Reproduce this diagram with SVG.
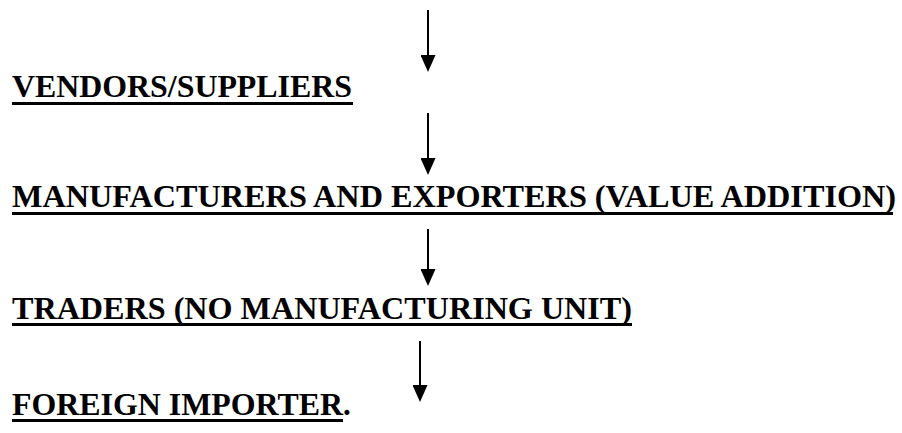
<svg xmlns="http://www.w3.org/2000/svg" width="902" height="433" viewBox="0 0 902 433">
  <defs>
    <style>
      .lbl { font-family: "Liberation Serif", "Times New Roman", serif; font-weight: bold; font-size: 31px; fill: #000; }
      .ul { fill: #000; }
      .conn { stroke: #000; stroke-width: 2; fill: none; marker-end: url(#head); }
    </style>
    <marker id="head" markerUnits="userSpaceOnUse" viewBox="0 0 17 15" refX="0" refY="7.5" markerWidth="17" markerHeight="15" orient="auto">
      <path d="M0,0 L17,7.5 L0,15 z" fill="#000"/>
    </marker>
  </defs>
  <rect width="902" height="433" fill="#fff"/>
  <g id="connectors">
    <line class="conn" x1="428" y1="10" x2="428" y2="55"/>
    <line class="conn" x1="428" y1="113" x2="428" y2="158"/>
    <line class="conn" x1="428" y1="229" x2="428" y2="269"/>
    <line class="conn" x1="420" y1="341" x2="420" y2="385"/>
  </g>
  <g id="vendors">
    <text class="lbl" x="12" y="97" textLength="340" lengthAdjust="spacingAndGlyphs">VENDORS/SUPPLIERS</text>
    <rect class="ul" x="12" y="102" width="341" height="3"/>
  </g>
  <g id="manufacturers">
    <text class="lbl" x="12" y="207" textLength="884" lengthAdjust="spacingAndGlyphs">MANUFACTURERS AND EXPORTERS (VALUE ADDITION)</text>
    <rect class="ul" x="12" y="212" width="881" height="3"/>
  </g>
  <g id="traders">
    <text class="lbl" x="12" y="319" textLength="620" lengthAdjust="spacingAndGlyphs">TRADERS (NO MANUFACTURING UNIT)</text>
    <rect class="ul" x="12" y="323" width="620" height="3"/>
  </g>
  <g id="importer">
    <text class="lbl" x="12" y="415"><tspan textLength="331" lengthAdjust="spacingAndGlyphs">FOREIGN IMPORTER</tspan>.</text>
    <rect class="ul" x="12" y="419" width="331" height="3"/>
  </g>
</svg>
